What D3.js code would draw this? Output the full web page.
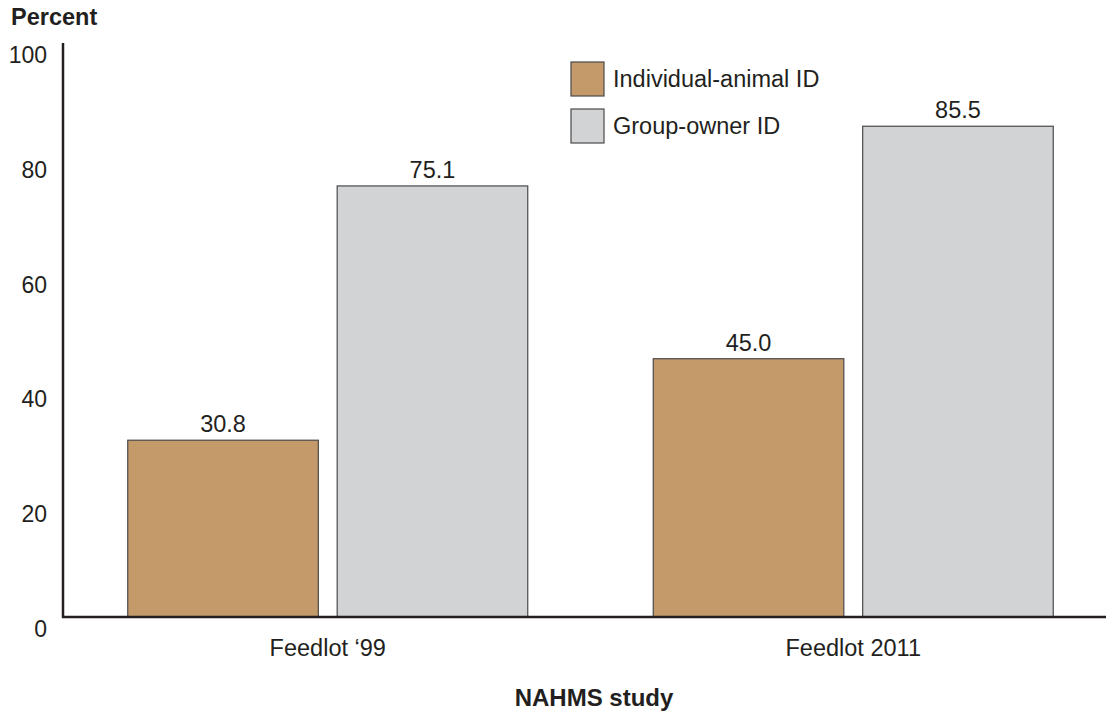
<!DOCTYPE html>
<html><head><meta charset="utf-8">
<script src="https://cdn.jsdelivr.net/npm/d3@7"></script>
<style>body{margin:0;background:#fff}svg{display:block}text{font-family:"Liberation Sans",Arial,sans-serif;fill:#231f20}</style>
</head><body>
<svg id="c" width="1106" height="715"></svg>
<script>
const categories = ["Feedlot \u201899", "Feedlot 2011"];
const seriesNames = ["Individual-animal ID", "Group-owner ID"];
const individualAnimal = [30.8, 45.0];
const groupOwner = [75.1, 85.5];
const yTicks = [0, 20, 40, 60, 80, 100];
const colors = ["#c49a6b", "#d1d3d4"];

const svg = d3.select("#c");
const y = d3.scaleLinear().domain([0, 100]).range([617, 43]);
const x0 = d3.scaleBand().domain(categories).range([65, 1116]).paddingInner(0.2388).paddingOuter(0.1194);
const x1 = d3.scaleBand().domain(seriesNames).range([0, x0.bandwidth()]).paddingInner(0.09).paddingOuter(0);

const data = categories.map((c, i) => ({cat: c, vals: [individualAnimal[i], groupOwner[i]]}));

const g = svg.append("g");
data.forEach(d => {
  d.vals.forEach((v, j) => {
    const bx = x0(d.cat) + x1(seriesNames[j]);
    g.append("rect").attr("x", bx).attr("y", y(v)).attr("width", x1.bandwidth()).attr("height", y(0) - y(v))
      .attr("fill", colors[j]).attr("stroke", "#4a4a4a").attr("stroke-width", 1.2);
    g.append("text").attr("x", bx + x1.bandwidth() / 2).attr("y", y(v) - 8).attr("text-anchor", "middle")
      .attr("font-size", 23.5).text(v.toFixed(1));
  });
});

// axes lines
svg.append("line").attr("x1", 63).attr("x2", 63).attr("y1", y(100)).attr("y2", y(0) + 1).attr("stroke", "#231f20").attr("stroke-width", 2.5);
svg.append("line").attr("x1", 62).attr("x2", 1106).attr("y1", y(0)).attr("y2", y(0)).attr("stroke", "#231f20").attr("stroke-width", 2.5);

// y tick labels
svg.append("g").selectAll("text").data(yTicks).join("text")
  .attr("x", 47).attr("y", d => y(d) + 12).attr("dy", "0.35em").attr("text-anchor", "end")
  .attr("font-size", 23).text(d => d);

// category labels
svg.append("g").selectAll("text").data(categories).join("text")
  .attr("x", d => x0(d) + x0.bandwidth() / 2).attr("y", 656).attr("text-anchor", "middle")
  .attr("font-size", 23.5).text(d => d);

svg.append("text").attr("x", 11).attr("y", 25).attr("font-size", 23.5).attr("font-weight", "bold").text("Percent");
svg.append("text").attr("x", 594).attr("y", 706).attr("text-anchor", "middle").attr("font-size", 24).attr("font-weight", "bold").text("NAHMS study");

// legend
const leg = svg.append("g").selectAll("g").data(seriesNames).join("g")
  .attr("transform", (d, i) => `translate(571,${62 + i * 47})`);
leg.append("rect").attr("width", 33).attr("height", 34).attr("fill", (d, i) => colors[i]).attr("stroke", "#4a4a4a").attr("stroke-width", 1.2);
leg.append("text").attr("x", 42).attr("y", 17).attr("dy", "0.35em").attr("font-size", 23.5).text(d => d);
</script>
</body></html>
